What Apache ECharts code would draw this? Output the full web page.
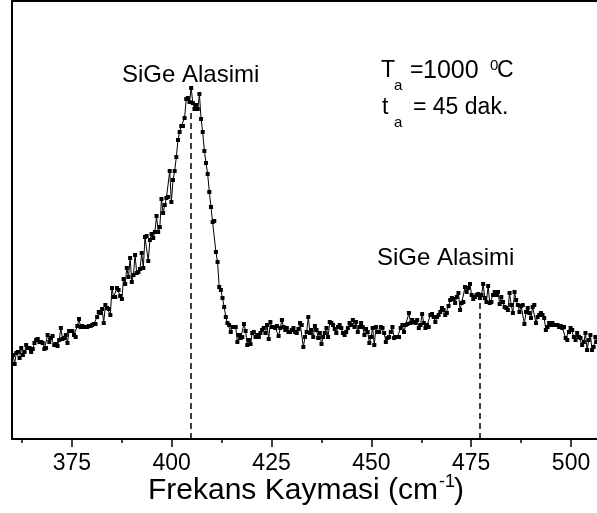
<!DOCTYPE html>
<html>
<head>
    <meta charset="utf-8">
    <script src="https://cdn.jsdelivr.net/npm/echarts@6/dist/echarts.min.js"></script>
    <style>
        html, body { margin: 0; padding: 0; background: #fff; }
    </style>
</head>
<body>
<div id="main" style="width:597px;height:513px;"></div>
<script type="text/javascript">
    // Raman shift range of the scan (cm-1), points are evenly spaced
    var shiftStart = 360.25;
    var shiftEnd = 506.5;

    // intensity (arb. units), left to right
    var leftWing = [84,75,86,87,81,91,84,87,94,91, 91,87,90,96,99,100,97,97,96,90,
        91,104,97,101,103,94,95,93,99,111, 100,101,104,96,108,108,108,104,102,113,
        120,112,113,112,112,112,113,113,114,115, 115,122,127,126,130,116,134,131,130,124,
        151,142,142,151,149,143,140,160,155,171, 162,181,157,164,184,166,
        167,170,186,171,202,203,178,199,205,201,207];
    var mainPeak = [223,207,212,240,226,234,241,242,268,237, 259,268,282,299,307,313,313,321,340,341,
        337,351,336,330,334,330,345,320,307,288, 276,265,247,232,217,218,187,177,152,149,
        141,132,122,116,114,107,112];
    var plateau = [112,112,97,104,101,102,115,108,94,99, 95,106,107,102,104,102,106,109,111,106,
        114,100,117,112,112,111,113,103,111,119, 112,109,111,107,107,109,111,107,106,110,
        116,114,92,102,107,122,106,109,102,113, 109,101,106,95,102,106,111,102,117,116,
        114,110,106,112,114,111,106,104,107,111, 116,114,119,112,117,107,112,116,112,104,
        110,107,96,102,111,94,112,107,107,112, 111,106,97,101,102,107,112,101,102,102];
    var secondPeak = [102,111,114,107,114,115,126,116,119,117, 116,119,111,114,125,116,111,114,112,124,
        125,122,117,122,124,127,131,129,124,126, 133,139,141,140,136,142,146,129,136,137,
        152,147,151,155,144,140,142,144,145,141, 144,155,141,137,153,136,137,144,147,144,
        147,135,142,137,132,131,129,146,134,126, 147,139,134,127,133,134,115,127,131,126,
        121,132,134,116,122,124,126,124,121,109, 112,116,114,116,114,114,114,112,113,111,
        112,101,99,107,111,109,102,99,106,102, 101,94,97,106,89,99,104,89,92,102,
        97];

    var majorTicks = [375, 400, 425, 450, 475, 500];
    var minorTicks = [362.5, 387.5, 412.5, 437.5, 462.5, 487.5];
    // positions of the two dashed markers and where they stop
    var peakLines = [[404.7, 329], [477.2, 136]];

    var intensity = leftWing.concat(mainPeak, plateau, secondPeak);
    var step = (shiftEnd - shiftStart) / (intensity.length - 1);
    var points = [];
    for (var i = 0; i < intensity.length; i++) {
        points.push([shiftStart + i * step, intensity[i]]);
    }

    var font = 'Liberation Sans, Arial, sans-serif';
    function txt(x, y, s, size) {
        return {
            type: 'text', x: x, y: y, silent: true,
            style: { text: s, fill: '#000', font: size + 'px ' + font, verticalAlign: 'middle', align: 'left' }
        };
    }

    var myChart = echarts.init(document.getElementById('main'));
    var option = {
        animation: false,
        backgroundColor: '#fff',
        grid: { left: 12, right: 0, top: 1, bottom: 74 },
        xAxis: [
            {
                type: 'value', min: 360, max: shiftEnd, position: 'bottom',
                axisLine: { show: true, lineStyle: { color: '#000', width: 2 } },
                axisTick: { show: true, customValues: majorTicks, length: 8, inside: false, lineStyle: { color: '#000', width: 1.5 } },
                axisLabel: { show: true, customValues: majorTicks, margin: 13, color: '#000', fontSize: 23, fontFamily: font },
                splitLine: { show: false }
            },
            {
                type: 'value', min: 360, max: shiftEnd, position: 'bottom',
                axisLine: { show: false },
                axisTick: { show: true, customValues: minorTicks, length: 4, lineStyle: { color: '#000', width: 1.5 } },
                axisLabel: { show: false },
                splitLine: { show: false }
            },
            {
                type: 'value', min: 360, max: shiftEnd, position: 'top',
                axisLine: { show: true, lineStyle: { color: '#000', width: 2 } },
                axisTick: { show: false },
                axisLabel: { show: false },
                splitLine: { show: false }
            }
        ],
        yAxis: {
            type: 'value', min: 0, max: 438,
            axisLine: { show: true, lineStyle: { color: '#000', width: 2 } },
            axisTick: { show: false },
            axisLabel: { show: false },
            splitLine: { show: false }
        },
        series: [{
            type: 'line',
            data: points,
            symbol: 'rect',
            symbolSize: 4,
            showSymbol: true,
            itemStyle: { color: '#000' },
            lineStyle: { color: '#000', width: 1 },
            markLine: {
                silent: true,
                symbol: 'none',
                label: { show: false },
                lineStyle: { color: '#000', type: [6, 4], width: 1.5 },
                data: peakLines.map(function (p) {
                    return [{ coord: [p[0], 0] }, { coord: [p[0], p[1]] }];
                })
            }
        }],
        graphic: [
            txt(122, 75, 'SiGe Alasimi', 24),
            txt(377, 258, 'SiGe Alasimi', 24),
            txt(381, 71, 'T', 23),
            txt(394, 86, 'a', 15),
            txt(410, 71, '=', 23),
            txt(423, 71, '1000', 25),
            txt(490, 66, '0', 15),
            txt(497, 71, 'C', 23),
            txt(382, 108, 't', 23),
            txt(394, 123, 'a', 15),
            txt(413, 108, '= 45 dak.', 23),
            txt(148, 491, 'Frekans Kaymasi (cm', 30),
            txt(439, 482, '-1', 18),
            txt(454, 491, ')', 30)
        ]
    };
    myChart.setOption(option);
</script>
</body>
</html>
